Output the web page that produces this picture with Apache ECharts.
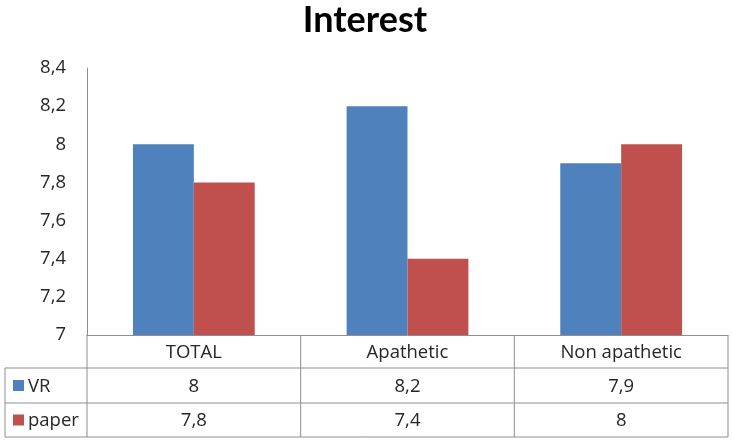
<!DOCTYPE html>
<html><head><meta charset="utf-8">
<script src="https://cdn.jsdelivr.net/npm/echarts@6/dist/echarts.min.js"></script>
<style>html,body{margin:0;padding:0;background:#fff}#c{width:733px;height:440px}</style>
</head><body><div id="c"></div>
<script>
const categories = ['TOTAL', 'Apathetic', 'Non apathetic'];
const seriesNames = ['VR', 'paper'];
const vrValues = [8, 8.2, 7.9];
const paperValues = [7.8, 7.4, 8];
const yMin = 7, yMax = 8.4, yStep = 0.2;

const colors = ['#4F81BD', '#C0504D'];
const font = '"Open Sans", Lato, sans-serif';
const titleFont = 'Lato, "Open Sans", sans-serif';
const textSize = 18.5;
const textColor = '#262626';
const lineColor = '#8E8E8E';
const fmt = v => String(+v.toFixed(1)).replace('.', ',');

const chart = echarts.init(document.getElementById('c'));
const gridL = 87, gridR = 5, gridT = 68, gridB = 105;
chart.setOption({
  animation: false,
  title: { text: 'Interest', left: 360, textAlign: 'center', top: -3,
    textStyle: { fontFamily: titleFont, fontWeight: 'bold', fontSize: 36, color: '#000' } },
  grid: { left: gridL, right: gridR, top: gridT, bottom: gridB, containLabel: false },
  xAxis: { type: 'category', data: categories,
    axisLine: { lineStyle: { color: lineColor } }, axisTick: { show: false },
    axisLabel: { show: false } },
  yAxis: { type: 'value', min: yMin, max: yMax, interval: yStep,
    axisLine: { show: true, lineStyle: { color: lineColor } }, axisTick: { show: false },
    splitLine: { show: false },
    axisLabel: { formatter: fmt, fontFamily: font, fontSize: textSize, color: textColor, margin: 21 } },
  series: [
    { name: seriesNames[0], type: 'bar', data: vrValues, barGap: '0%', barCategoryGap: '43%',
      itemStyle: { color: colors[0] } },
    { name: seriesNames[1], type: 'bar', data: paperValues, barGap: '0%', barCategoryGap: '43%',
      itemStyle: { color: colors[1] } }
  ]
});

// data table below the plot
const W = 733;
const axisY = chart.convertToPixel({ yAxisIndex: 0 }, yMin);
const tableLeft = 5, tableRight = W - gridR;
const colW = (tableRight - gridL) / categories.length;
const rowH = [33, 35, 34];
const rowTop = [axisY, axisY + rowH[0], axisY + rowH[0] + rowH[1]];
const tableBottom = rowTop[2] + rowH[2];
const g = [];
const line = (x1, y1, x2, y2) => g.push({ type: 'line', shape: { x1, y1, x2, y2 },
  style: { stroke: lineColor, lineWidth: 1 }, silent: true });
line(tableLeft, rowTop[1], tableRight, rowTop[1]);
line(tableLeft, rowTop[2], tableRight, rowTop[2]);
line(tableLeft, tableBottom, tableRight, tableBottom);
line(tableLeft, rowTop[1], tableLeft, tableBottom);
line(gridL, axisY, gridL, tableBottom);
for (let i = 1; i <= categories.length; i++) {
  const x = gridL + colW * i;
  line(x, axisY, x, tableBottom);
}
const txt = (text, x, y, align) => g.push({ type: 'text', x, y, silent: true,
  style: { text, fontFamily: font, fontSize: textSize, fill: textColor, align: align || 'center', verticalAlign: 'middle' } });
categories.forEach((c, i) => {
  const cx = chart.convertToPixel({ xAxisIndex: 0 }, c);
  txt(c, cx, rowTop[0] + rowH[0] / 2 + 1);
  txt(fmt(vrValues[i]), cx, rowTop[1] + rowH[1] / 2 + 1);
  txt(fmt(paperValues[i]), cx, rowTop[2] + rowH[2] / 2 + 1);
});
seriesNames.forEach((n, k) => {
  const cy = rowTop[k + 1] + rowH[k + 1] / 2;
  g.push({ type: 'rect', shape: { x: 13, y: cy - 5.5, width: 11, height: 11 },
    style: { fill: colors[k] }, silent: true });
  txt(n, 28, cy + 1, 'left');
});
chart.setOption({ graphic: g });
</script></body></html>
